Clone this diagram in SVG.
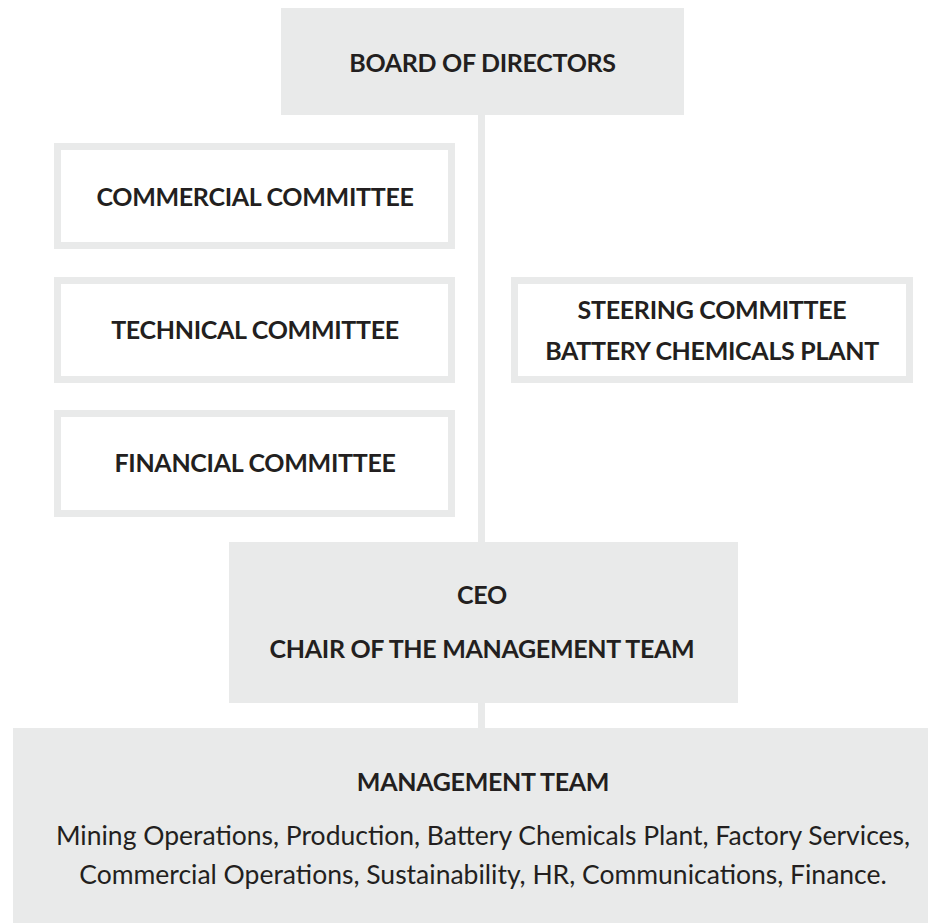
<svg xmlns="http://www.w3.org/2000/svg" width="928" height="923" viewBox="0 0 928 923">
<style>
.fill{fill:#e9eaea}
.frame{fill:#ffffff;stroke:#e9eaea;stroke-width:7}
.h{font-family:Lato,"Open Sans","Liberation Sans",sans-serif;font-weight:700;font-size:25px;fill:#231f20;text-anchor:middle;letter-spacing:-0.3px}
.b{font-family:Lato,"Open Sans","Liberation Sans",sans-serif;font-weight:400;font-size:26.5px;fill:#231f20;text-anchor:middle}
.conn{stroke:#e9eaea;stroke-width:7;fill:none}
</style>
<rect width="928" height="923" fill="#ffffff"/>
<g id="connectors">
<line class="conn" x1="481.5" y1="114" x2="481.5" y2="543"/>
<line class="conn" x1="481.5" y1="702" x2="481.5" y2="729"/>
</g>
<g id="board">
<rect class="fill" x="281" y="8" width="403" height="107"/>
<text class="h" x="482.5" y="72">BOARD OF DIRECTORS</text>
</g>
<g id="commercial">
<rect class="frame" x="57.5" y="146.5" width="394" height="99"/>
<text class="h" x="255" y="206">COMMERCIAL COMMITTEE</text>
</g>
<g id="technical">
<rect class="frame" x="57.5" y="280.5" width="394" height="99"/>
<text class="h" x="255" y="339">TECHNICAL COMMITTEE</text>
</g>
<g id="financial">
<rect class="frame" x="57.5" y="413.5" width="394" height="100"/>
<text class="h" x="255" y="472">FINANCIAL COMMITTEE</text>
</g>
<g id="steering">
<rect class="frame" x="514.5" y="280.5" width="395" height="99"/>
<text class="h" x="712" y="319">STEERING COMMITTEE</text>
<text class="h" x="712" y="360">BATTERY CHEMICALS PLANT</text>
</g>
<g id="ceo">
<rect class="fill" x="229" y="542" width="509" height="161"/>
<text class="h" x="482" y="604">CEO</text>
<text class="h" x="482" y="658">CHAIR OF THE MANAGEMENT TEAM</text>
</g>
<g id="management">
<rect class="fill" x="13" y="728" width="915" height="195"/>
<text class="h" x="483" y="791">MANAGEMENT TEAM</text>
<text class="b" x="483" y="845">Mining Operations, Production, Battery Chemicals Plant, Factory Services,</text>
<text class="b" x="483" y="884">Commercial Operations, Sustainability, HR, Communications, Finance.</text>
</g>
</svg>
